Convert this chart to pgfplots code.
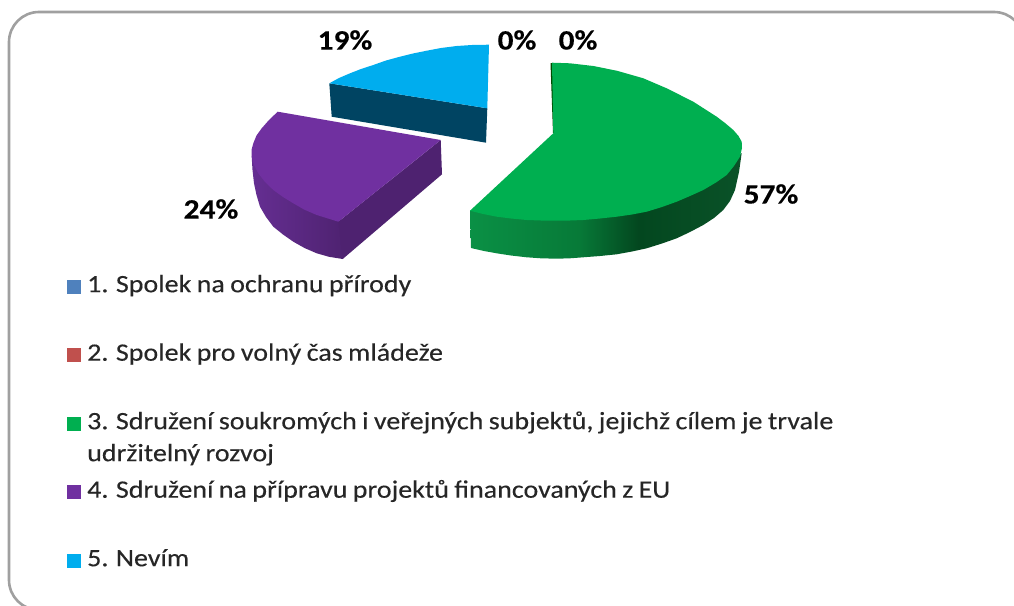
\documentclass[border=0pt]{standalone}
\usepackage{pgfplots}
\usepackage{fontspec}
\setmainfont[FakeStretch=1.12,FakeBold=0.25,WordSpace=0.85]{Carlito}
\pgfplotsset{compat=1.18}
\definecolor{framegray}{HTML}{A0A0A0}
\definecolor{sgreen}{HTML}{00AF50}
\definecolor{spurple}{HTML}{7030A0}
\definecolor{sblue}{HTML}{00ADEE}
\definecolor{sblueD}{HTML}{004462}
\definecolor{lblue}{HTML}{4F81BD}
\definecolor{lred}{HTML}{C0504D}
\definecolor{greenA}{HTML}{0A9045}
\definecolor{greenB}{HTML}{077A38}
\definecolor{greenC}{HTML}{03471F}
\definecolor{greenD}{HTML}{0A5228}
\definecolor{purpA}{HTML}{652E92}
\definecolor{purpB}{HTML}{4E2270}
\pgfdeclarehorizontalshading{greenside}{100bp}{color(0bp)=(greenA);color(25bp)=(greenA);color(45bp)=(greenB);color(56bp)=(greenC);color(75bp)=(greenD);color(100bp)=(greenD)}
\pgfdeclarehorizontalshading{purpleside}{100bp}{color(0bp)=(purpA);color(25bp)=(purpA);color(75bp)=(purpB);color(100bp)=(purpB)}
\begin{document}
\begin{tikzpicture}
\begin{axis}[
  name=ax,
  width=1014pt,height=605pt,scale only axis,
  xmin=0,xmax=1014,ymin=0,ymax=605,y dir=reverse,
  axis lines=none,clip=true,
  legend style={at={(axis cs:67,275)},anchor=north west,draw=none,fill=none,
    font=\fontsize{25}{31}\selectfont\color{black!85},
    row sep=45.5pt,column sep=6pt,inner sep=0pt,
    nodes={inner sep=0pt,outer sep=0pt,text height=17pt,text depth=6pt,anchor=west}},
  legend cell align=left,
  legend image code/.code={\fill[#1] (0pt,-7pt) rectangle (14pt,7pt);},
]
% frame
\addplot[forget plot,draw=framegray,line width=2.6pt,rounded corners=30pt] coordinates {(1024,610)(9,610)(9,12)(1024,12)(1024,610)};
% zero slices (legend only)
\addplot[draw=none,fill=lblue] coordinates {(551,63)};
\addlegendentry{1. Spolek na ochranu přírody}
\addplot[draw=none,fill=lred] coordinates {(551,63)};
\addlegendentry{2. Spolek pro volný čas mládeže}
% green
\addplot[forget plot,draw=none,shading=greenside] coordinates {(470,210.7)(471,248)(484,251)(496.7,253.3)(511,255.5)(526.7,257.3)(541,258.3)(556.7,258.7)(570,258.3)(583.3,257.3)(600,256)(616.7,254.3)(632,251.5)(646.7,248.3)(662,243.5)(676.7,238.3)(690,232)(703.3,225)(714,218)(723.3,210)(730,201)(735,190)(739,172)(741.7,153)(700,190)(600,215)(500,215)};
\addplot[forget plot,draw=none,fill=black!70!green] coordinates {(550.5,63)(552.5,63)(554.5,133)(553,133)};
\addplot[draw=none,fill=sgreen] coordinates {(552,62.7)(570,63.3)(593.3,66)(616.7,70.7)(643.3,78.3)(666.7,88.3)(693.3,101.7)(716.7,116.7)(725,123)(733.3,130)(738.5,136)(741.7,141.7)(742,148)(740,156.7)(734,166)(726.7,175)(716,182.5)(703.3,190)(690,196)(676.7,201.7)(662,207)(646.7,211.7)(632,214.5)(616.7,216.7)(600,218.5)(583.3,220)(570,220.5)(556.7,220.7)(541,220.5)(526.7,220)(511,218.5)(496.7,216.7)(483,214)(470,210.7)(553.3,133.3)};
\addlegendentry{\smash{\begin{tabular}[t]{@{}l@{}}3. Sdružení soukromých i veřejných subjektů, jejichž cílem je trvale\\[1pt]udržitelný rozvoj\end{tabular}}\rule[-10pt]{0pt}{1pt}}
% purple
\addplot[forget plot,draw=none,shading=purpleside] coordinates {(251.7,156.7)(252.5,170)(254,183.3)(256.5,195)(260,206.7)(266,217)(273.3,226.7)(283,234.5)(293.3,241.7)(304.5,248)(316.7,253.3)(329,256.8)(342.7,259)(346,250)(342,221.7)(280,190)};
\addplot[forget plot,draw=none,fill=purpB] coordinates {(440.7,140)(442,174.3)(342.7,259)(338.3,221.7)};
\addplot[draw=none,fill=spurple] coordinates {(277.7,111.7)(440.7,140)(338.3,221.7)(316.7,215)(304,209.5)(293.3,203.3)(283,197)(273.3,190)(265,182)(258.3,173.3)(254,165)(251.7,156.7)(251.5,150)(253.3,143.3)(256.5,135.5)(261.7,128.3)(269,120)};
\addlegendentry{4. Sdružení na přípravu projektů financovaných z EU}
% blue
\addplot[forget plot,draw=none,fill=sblueD] coordinates {(329.3,83.3)(487.3,108.3)(486,142.7)(331.7,116.7)};
\addplot[draw=none,fill=sblue] coordinates {(489,44.7)(472,45)(456.7,46)(441,48)(426.7,50.7)(413,53.5)(400,56.7)(386,60.5)(373.3,65)(361,69)(350,73.3)(339,78)(329.3,83.3)(487.3,108.3)};
\addlegendentry{5. Nevím}
% value labels
\node[font=\fontsize{28}{30}\selectfont\bfseries] at (axis cs:345,40) {19\%};
\node[font=\fontsize{28}{30}\selectfont\bfseries] at (axis cs:517,40) {0\%};
\node[font=\fontsize{28}{30}\selectfont\bfseries] at (axis cs:578,40) {0\%};
\node[font=\fontsize{28}{30}\selectfont\bfseries] at (axis cs:771,194) {57\%};
\node[font=\fontsize{28}{30}\selectfont\bfseries] at (axis cs:211,209) {24\%};
\end{axis}
\pgfresetboundingbox
\path[use as bounding box] (ax.south west) rectangle (ax.north east);
\end{tikzpicture}
\end{document}
